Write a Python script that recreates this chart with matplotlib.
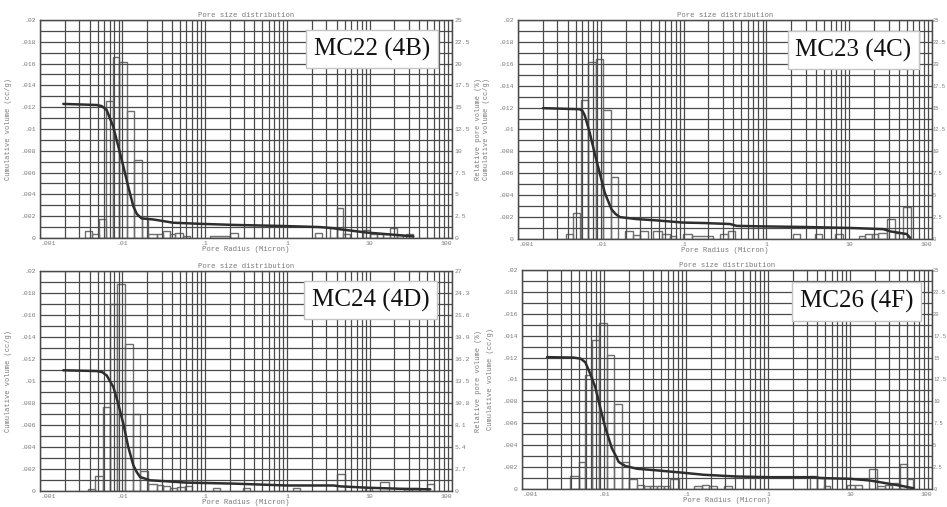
import matplotlib
matplotlib.use("Agg")
import matplotlib.pyplot as plt
from matplotlib.ticker import FixedLocator, LogLocator, NullFormatter

# ---- sample labels ----
names = ["MC22 (4B)", "MC23 (4C)", "MC24 (4D)", "MC26 (4F)"]

# ---- x ticks (pore radius, micron) ----
x_ticks = [0.001, 0.01, 0.1, 1, 10, 100]
x_labels = [".001", ".01", ".1", "1", "10", "100"]

# ---- left axis (cumulative volume cc/g) ----
cum_ticks = [0, 0.002, 0.004, 0.006, 0.008, 0.01, 0.012, 0.014, 0.016, 0.018, 0.02]
cum_labels = ["0", ".002", ".004", ".006", ".008", ".01", ".012", ".014", ".016", ".018", ".02"]

# ---- right axis (relative pore volume %) ----
pct_ticks_a = [0, 2.5, 5, 7.5, 10, 12.5, 15, 17.5, 20, 22.5, 25]
pct_labels_a = ["0", "2.5", "5", "7.5", "10", "12.5", "15", "17.5", "20", "22.5", "25"]
pct_ticks_b = [0, 2.7, 5.4, 8.1, 10.8, 13.5, 16.2, 18.9, 21.6, 24.3, 27]
pct_labels_b = ["0", "2.7", "5.4", "8.1", "10.8", "13.5", "16.2", "18.9", "21.6", "24.3", "27"]

# ---- MC22 (4B) ----
p1_r = [0.00192, 0.00488, 0.0056, 0.00644, 0.00776, 0.00893, 0.01026, 0.0118, 0.0136, 0.0150,
        0.0171, 0.0237, 0.0415, 0.0875, 0.222, 0.897, 2.50, 3.63, 4.38, 9.20, 13.4, 34.0]
p1_cum = [0.0123, 0.0122, 0.0121, 0.01175, 0.0102, 0.0084, 0.0066, 0.0047, 0.0029, 0.0022,
          0.0018, 0.0017, 0.0014, 0.0013, 0.0012, 0.0011, 0.0010, 0.0009, 0.0008, 0.0005,
          0.0004, 0.00015]
p1_lo = [0.00352, 0.00424, 0.00525, 0.00632, 0.00762, 0.00918, 0.0113, 0.0138, 0.0171, 0.0206,
         0.0261, 0.0314, 0.0379, 0.0435, 0.055, 0.116, 0.202, 2.17, 3.30, 3.98,
         4.80, 8.39, 10.1, 12.2, 14.7, 17.7, 21.3, 27.9]
p1_hi = [0.00424, 0.00525, 0.00632, 0.00762, 0.00918, 0.0113, 0.0138, 0.0171, 0.0206, 0.0261,
         0.0314, 0.0379, 0.0435, 0.055, 0.066, 0.202, 0.255, 2.62, 3.98, 4.80,
         5.79, 10.1, 12.2, 14.7, 17.7, 21.3, 25.7, 33.9]
p1_pct = [0.84, 0.4, 2.2, 15.7, 20.8, 20.2, 14.6, 9.0, 2.3, 0.46,
          0.46, 0.84, 0.4, 0.57, 0.27, 0.27, 0.57, 0.57, 1.15, 3.4,
          0.5, 0.95, 0.4, 0.5, 0.4, 1.15, 0.3, 0.5]

# ---- MC23 (4C) ----
p2_r = [0.00200, 0.00557, 0.0060, 0.00640, 0.00736, 0.00845, 0.00973, 0.0112, 0.0135, 0.0150,
        0.0170, 0.0270, 0.0471, 0.0991, 0.173, 0.363, 0.438, 0.920, 2.81, 11.3, 26.0, 31.3,
        41.4, 49.9, 54.7]
p2_cum = [0.01195, 0.01185, 0.0117, 0.0113, 0.0097, 0.0078, 0.0060, 0.0042, 0.0027, 0.0023,
          0.0020, 0.00182, 0.0017, 0.0015, 0.00146, 0.00137, 0.0012, 0.00115, 0.0011, 0.0010,
          0.0009, 0.0007, 0.00055, 0.00045, 0.0001]
p2_lo = [0.00385, 0.00463, 0.00583, 0.00703, 0.00886, 0.01067, 0.01346, 0.0195, 0.0246, 0.0296,
         0.0430, 0.0542, 0.0683, 0.0991, 0.125, 0.275, 0.347, 2.12, 3.88, 6.78,
         13.0, 15.6, 18.8, 22.6, 28.4, 35.8, 45.0]
p2_hi = [0.00463, 0.00557, 0.00703, 0.00886, 0.01067, 0.01346, 0.0162, 0.0246, 0.0296, 0.0373,
         0.0542, 0.0683, 0.0822, 0.125, 0.229, 0.347, 0.418, 2.55, 4.67, 8.53,
         15.6, 18.8, 22.6, 28.4, 35.8, 45.0, 56.6]
p2_pct = [0.57, 3.0, 15.9, 20.2, 20.5, 14.7, 7.1, 0.87, 0.5, 0.87,
          0.87, 0.57, 0.38, 0.57, 0.3, 0.57, 0.87, 0.57, 0.57, 0.57,
          0.38, 0.57, 0.57, 0.68, 2.3, 0.68, 3.65]

# ---- MC24 (4D) ----
p3_r = [0.00192, 0.00488, 0.0057, 0.00646, 0.00778, 0.00893, 0.01028, 0.0118, 0.0136, 0.0150,
        0.0164, 0.0217, 0.0345, 0.0604, 0.223, 0.991, 3.66, 4.41, 9.29, 23.6, 54.6]
p3_cum = [0.01097, 0.0109, 0.0108, 0.0105, 0.00945, 0.0079, 0.0061, 0.0040, 0.00233, 0.0017,
          0.00127, 0.00097, 0.00088, 0.00076, 0.00067, 0.0005, 0.0005, 0.00042, 0.0003, 0.0002,
          0.00015]
p3_lo = [0.00386, 0.00466, 0.00587, 0.00708, 0.00853, 0.01076, 0.0136, 0.0164, 0.0207, 0.0261,
         0.0314, 0.0378, 0.0456, 0.0575, 0.127, 0.295, 1.19, 4.01, 8.85, 13.5,
         25.9, 32.7, 49.7]
p3_hi = [0.00466, 0.00587, 0.00708, 0.00853, 0.01076, 0.0136, 0.0164, 0.0207, 0.0261, 0.0314,
         0.0378, 0.0456, 0.0575, 0.0693, 0.153, 0.356, 1.44, 5.06, 10.7, 17.0,
         32.7, 41.1, 59.8]
p3_pct = [0.29, 1.8, 10.3, 22.9, 25.4, 18.0, 9.5, 2.5, 0.9, 0.7,
          0.57, 0.4, 0.49, 0.57, 0.4, 0.4, 0.4, 2.05, 0.4, 1.1,
          0.3, 0.4, 0.9]

# ---- MC26 (4F) ----
p4_r = [0.00202, 0.00427, 0.0052, 0.00592, 0.00681, 0.00783, 0.00902, 0.01038, 0.0125, 0.0140,
        0.0151, 0.0182, 0.0252, 0.0443, 0.0938, 0.164, 0.419, 1.07, 3.61, 4.35, 10.1, 17.7,
        31.0, 45.1, 59.7]
p4_cum = [0.01204, 0.0120, 0.0119, 0.01157, 0.0105, 0.0093, 0.0074, 0.0056, 0.0037, 0.0030,
          0.00247, 0.0021, 0.00185, 0.0017, 0.00148, 0.0013, 0.00114, 0.00108, 0.00108, 0.0010,
          0.00093, 0.00077, 0.00046, 0.00025, 0.00006]
p4_lo = [0.00388, 0.00491, 0.00592, 0.00714, 0.00861, 0.01089, 0.0131, 0.0166, 0.0200, 0.0252,
         0.0304, 0.0366, 0.0441, 0.0532, 0.0641, 0.124, 0.157, 0.189, 0.288, 3.28,
         3.96, 4.77, 9.18, 11.6, 16.9, 21.3, 26.9, 32.4, 40.8, 49.3]
p4_hi = [0.00491, 0.00592, 0.00714, 0.00861, 0.01089, 0.0131, 0.0166, 0.0200, 0.0252, 0.0304,
         0.0366, 0.0441, 0.0532, 0.0641, 0.0812, 0.157, 0.189, 0.238, 0.364, 3.96,
         4.77, 5.75, 11.6, 14.0, 21.3, 26.9, 32.4, 40.8, 49.3, 59.4]
p4_pct = [1.47, 3.1, 13.0, 17.0, 18.9, 15.3, 9.65, 3.1, 1.16, 0.46,
          0.39, 0.39, 0.39, 0.39, 1.16, 0.3, 0.5, 0.3, 0.3, 1.47,
          1.35, 0.3, 0.46, 0.46, 2.3, 0.3, 0.4, 0.7, 2.8, 1.16]

mono = "Liberation Mono"
txt_gray = "#7a7a7a"
grid_col = "#4a4a4a"

fig = plt.figure(figsize=(9.47, 5.07), dpi=100)


def draw_panel(rect, r, cum, lo, hi, pct, pct_ticks, pct_labels, name, box_xy,
               right_edge=False):
    ax = fig.add_axes(rect)
    ax2 = ax.twinx()
    ax.set_zorder(ax2.get_zorder() + 1)
    ax.patch.set_visible(False)

    ax.set_xscale("log")
    ax.set_xlim(0.001, 100)
    ax.set_ylim(0, 0.02)
    ax2.set_ylim(0, pct_ticks[-1])

    # grid: log minors vertically, every 0.001 horizontally
    ax.xaxis.set_major_locator(FixedLocator(x_ticks))
    ax.xaxis.set_minor_locator(LogLocator(base=10, subs=range(2, 10), numticks=20))
    ax.xaxis.set_minor_formatter(NullFormatter())
    ax.set_xticklabels(x_labels)
    ax.set_yticks(cum_ticks)
    ax.set_yticklabels(cum_labels)
    ax.set_yticks([i * 0.001 for i in range(1, 20, 2)], minor=True)
    ax.grid(True, which="both", color=grid_col, lw=0.9)
    ax.tick_params(which="both", length=0, labelsize=4.6, labelcolor=txt_gray)
    ax.tick_params(axis="x", pad=2)
    ax.tick_params(axis="y", pad=3)
    for t in ax.get_xticklabels() + ax.get_yticklabels():
        t.set_fontfamily(mono)
    xt = ax.get_xticklabels()
    xt[0].set_ha("left")
    xt[-1].set_ha("right")

    ax2.set_yticks(pct_ticks)
    ax2.set_yticklabels(pct_labels, fontfamily=mono)
    if right_edge:
        ax2.tick_params(length=0, labelsize=3.9, labelcolor=txt_gray, pad=0.8)
    else:
        ax2.tick_params(length=0, labelsize=4.6, labelcolor=txt_gray, pad=2)

    for sp in list(ax.spines.values()) + list(ax2.spines.values()):
        sp.set_color(grid_col)
        sp.set_linewidth(0.9)

    widths = [h - l for l, h in zip(lo, hi)]
    ax2.bar(lo, pct, width=widths, align="edge", fill=False,
            edgecolor="#6e6e6e", linewidth=1.0)
    ax.plot(r, cum, color="#2e2e2e", lw=1.8, solid_capstyle="round")

    ax.set_title("Pore size distribution", fontsize=5.2, color=txt_gray,
                 fontfamily=mono, pad=2)
    ax.set_xlabel("Pore Radius (Micron)", fontsize=5.2, color=txt_gray,
                  fontfamily=mono, labelpad=0.5)
    ax.set_ylabel("Cumulative volume (cc/g)", fontsize=5.0, color=txt_gray,
                  fontfamily=mono)
    ax.yaxis.set_label_coords(-0.068, 0.5)
    if not right_edge:
        ax2.set_ylabel("Relative pore volume (%)", fontsize=5.0, color=txt_gray,
                       fontfamily=mono, rotation=90)
        ax2.yaxis.set_label_coords(1.057, 0.5)

    ax.text(box_xy[0], box_xy[1], name, transform=ax.transAxes, ha="center",
            va="center", fontsize=18, fontfamily="Liberation Serif", color="#111111",
            zorder=10,
            bbox=dict(boxstyle="square,pad=0.3", facecolor="white",
                      edgecolor="#c4c4c4", linewidth=1.0))


draw_panel([0.0422, 0.5306, 0.435, 0.430], p1_r, p1_cum, p1_lo, p1_hi, p1_pct,
           pct_ticks_a, pct_labels_a, names[0], (0.806, 0.867))
draw_panel([0.547, 0.5286, 0.437, 0.432], p2_r, p2_cum, p2_lo, p2_hi, p2_pct,
           pct_ticks_a, pct_labels_a, names[1], (0.810, 0.863), right_edge=True)
draw_panel([0.0422, 0.0316, 0.435, 0.434], p3_r, p3_cum, p3_lo, p3_hi, p3_pct,
           pct_ticks_b, pct_labels_b, names[2], (0.803, 0.868))
draw_panel([0.5512, 0.0355, 0.433, 0.432], p4_r, p4_cum, p4_lo, p4_hi, p4_pct,
           pct_ticks_a, pct_labels_a, names[3], (0.816, 0.856), right_edge=True)

fig.savefig("out.png", dpi=100)
